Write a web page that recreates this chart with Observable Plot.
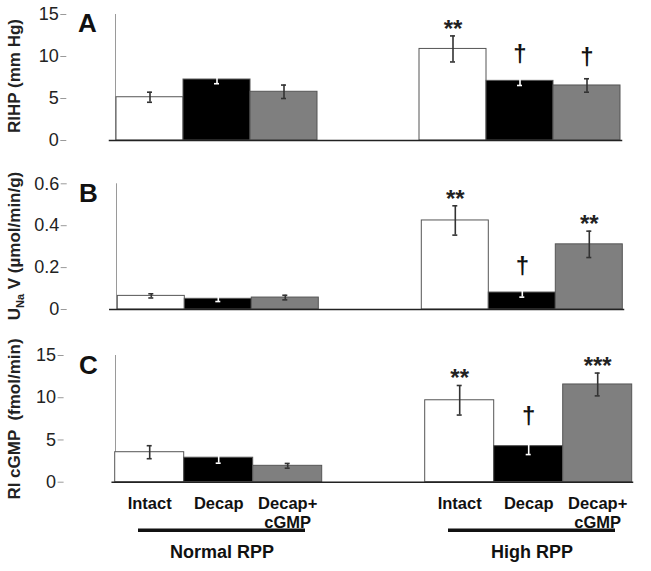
<!DOCTYPE html>
<html>
<head>
<meta charset="utf-8">
<script src="https://cdn.jsdelivr.net/npm/d3@7"></script>
<script src="https://cdn.jsdelivr.net/npm/@observablehq/plot@0.6"></script>
<style>
  html, body { margin: 0; padding: 0; background: #fff; }
  #wrap { position: relative; width: 651px; height: 571px; background: #fff; overflow: hidden;
          font-family: "Liberation Sans", Arial, Helvetica, sans-serif; color: #222; }
  .panel { position: absolute; left: 0; }
  .yt { position: absolute; width: 220px; height: 20px; line-height: 20px; text-align: center;
        font-size: 17px; font-weight: bold; transform: rotate(-90deg); transform-origin: 50% 50%;
        white-space: pre; color: #222; }
  .letter { position: absolute; font-size: 26px; line-height: 26px; font-weight: bold; color: #111; }
  sub.na { font-size: 11px; vertical-align: -4px; line-height: 0; }
</style>
</head>
<body>
<div id="wrap">
  <div class="panel" id="pA" style="top:0px"></div>
  <div class="panel" id="pB" style="top:170px"></div>
  <div class="panel" id="pC" style="top:330px"></div>
  <div class="yt" style="left:-95.5px; top:65.5px">RIHP (mm Hg)</div>
  <div class="yt" style="left:-95px; top:236px">U<sub class="na">Na</sub> V (µmol/min/g)</div>
  <div class="yt" style="left:-95px; top:408.5px">RI cGMP  (fmol/min)</div>
  <div class="letter" style="left:78px; top:9.6px">A</div>
  <div class="letter" style="left:79px; top:180px">B</div>
  <div class="letter" style="left:79px; top:351.6px">C</div>
</div>
<script>
// ---- data ----
const groups = ["Normal RPP", "High RPP"];
const conditions = ["Intact", "Decap", "Decap+cGMP"];
const conditionLabels = ["Intact", "Decap", "Decap+\ncGMP"];
const barColors = ["#ffffff", "#000000", "#7f7f7f"];

// Panel A: RIHP (mm Hg)
const rihpMean = [5.15, 7.26, 5.8, 10.9, 7.1, 6.55];
const rihpErr  = [0.6, 0.5, 0.8, 1.55, 0.55, 0.8];
const rihpSig  = ["", "", "", "**", "†", "†"];
const rihpTicks = [0, 5, 10, 15];

// Panel B: UNaV (µmol/min/g)
const unavMean = [0.065, 0.051, 0.057, 0.425, 0.081, 0.311];
const unavErr  = [0.01, 0.013, 0.011, 0.07, 0.022, 0.063];
const unavSig  = ["", "", "", "**", "†", "**"];
const unavTicks = [0, 0.2, 0.4, 0.6];

// Panel C: RI cGMP (fmol/min)
const cgmpMean = [3.55, 2.9, 1.94, 9.7, 4.27, 11.57];
const cgmpErr  = [0.77, 0.65, 0.28, 1.75, 1.0, 1.35];
const cgmpSig  = ["", "", "", "**", "†", "***"];
const cgmpTicks = [0, 5, 10, 15];

function rows(mean, err, sig) {
  return mean.map((v, i) => ({
    group: groups[Math.floor(i / conditions.length)],
    cond: conditions[i % conditions.length],
    v, e: err[i], sig: sig[i]
  }));
}

function panel(data, ticks, cfg) {
  const dark = d => d.cond === "Decap";
  const marks = [
    Plot.frame({anchor: "left", stroke: "#9a9a9a", facet: "super"}),
    Plot.axisY({ticks, tickFormat: d => String(d), tickSize: 6, tickPadding: 2, dx: cfg.axisDx,
      stroke: "#9a9a9a", fill: "#222", label: null, fontSize: 18}),
    Plot.barY(data, {fx: "group", x: "cond", y: "v", fill: "cond", stroke: "#555", strokeWidth: 1}),
    Plot.frame({anchor: "bottom", facet: "super", insetLeft: cfg.baseInset, stroke: "#222", strokeWidth: 1.5}),
    // error bars
    Plot.ruleX(data, {filter: d => !dark(d), fx: "group", x: "cond", y1: d => d.v - d.e, y2: d => d.v + d.e, stroke: "#333", strokeWidth: 1.6}),
    Plot.tickY(data, {filter: d => !dark(d), fx: "group", x: "cond", y: d => d.v - d.e, inset: cfg.capInset, stroke: "#333", strokeWidth: 1.6}),
    Plot.tickY(data, {filter: d => !dark(d), fx: "group", x: "cond", y: d => d.v + d.e, inset: cfg.capInset, stroke: "#333", strokeWidth: 1.6}),
    Plot.ruleX(data, {filter: dark, fx: "group", x: "cond", y1: d => d.v - d.e, y2: d => d.v + d.e, stroke: "#fff", strokeWidth: 1.6}),
    Plot.tickY(data, {filter: dark, fx: "group", x: "cond", y: d => d.v - d.e, inset: cfg.capInset, stroke: "#fff", strokeWidth: 1.6}),
    Plot.tickY(data, {filter: dark, fx: "group", x: "cond", y: d => d.v + d.e, inset: cfg.capInset, stroke: "#fff", strokeWidth: 1.6}),
    // significance marks
    Plot.text(data, {filter: d => d.sig.startsWith("*"), fx: "group", x: "cond", y: d => d.v + d.e, text: "sig",
      lineAnchor: "bottom", dy: 1, fontSize: 24, fontWeight: "bold", fill: "#222"}),
    Plot.text(data, {filter: d => d.sig === "†", fx: "group", x: "cond", y: d => d.v + d.e, text: "sig",
      lineAnchor: "bottom", dy: -14, fontSize: 24, fontWeight: "bold", fill: "#111"})
  ];
  if (cfg.labels) {
    marks.push(
      Plot.axisX({tickSize: 0, tickPadding: 13, fontSize: 16.5, fontWeight: "bold", fill: "#111", label: null,
        tickFormat: d => conditionLabels[conditions.indexOf(d)], lineHeight: 1.15}),
      Plot.ruleY(groups, {fx: d => d, y: () => 0, dy: 48, insetLeft: 23, insetRight: 17, stroke: "#111", strokeWidth: 3.5}),
      Plot.text(groups, {fx: d => d, text: d => d, frameAnchor: "bottom", dy: 76, dx: 3, lineAnchor: "bottom",
        fontSize: 18, fontWeight: "bold", fill: "#111"})
    );
  }
  return Plot.plot({
    width: 651,
    height: cfg.height,
    marginTop: cfg.mTop,
    marginBottom: cfg.mBottom,
    marginLeft: cfg.mLeft,
    marginRight: cfg.mRight,
    style: {fontFamily: "'Liberation Sans', Arial, Helvetica, sans-serif", fontSize: "18px", color: "#222", background: "transparent"},
    fx: {domain: groups, paddingInner: cfg.pi, paddingOuter: cfg.po, align: cfg.align, axis: null, label: null},
    x: cfg.labels ? {domain: conditions, padding: 0, label: null} : {domain: conditions, padding: 0, axis: null},
    y: {domain: cfg.yDomain, axis: null},
    color: {domain: conditions, range: barColors},
    marks
  });
}

document.getElementById("pA").appendChild(panel(rows(rihpMean, rihpErr, rihpSig), rihpTicks, {
  height: 150, mTop: 14, mBottom: 10, mLeft: 66, mRight: 8, pi: 0.3297, po: 0.116, align: 0.692,
  axisDx: -48.7, baseInset: -6, capInset: 31, yDomain: [0, 15]
}));
document.getElementById("pB").appendChild(panel(rows(unavMean, unavErr, unavSig), unavTicks, {
  height: 150, mTop: 13.3, mBottom: 11, mLeft: 66.7, mRight: 8, pi: 0.332, po: 0.113, align: 0.717,
  axisDx: -49.3, baseInset: -6.7, capInset: 31, yDomain: [0, 0.6]
}));
document.getElementById("pC").appendChild(panel(rows(cgmpMean, cgmpErr, cgmpSig), cgmpTicks, {
  height: 241, mTop: 25, mBottom: 89.3, mLeft: 63.3, mRight: 0, pi: 0.333, po: 0.1135, align: 0.733,
  axisDx: -51.4, baseInset: -3.3, capInset: 32, yDomain: [0, 15], labels: true
}));
</script>
</body>
</html>
